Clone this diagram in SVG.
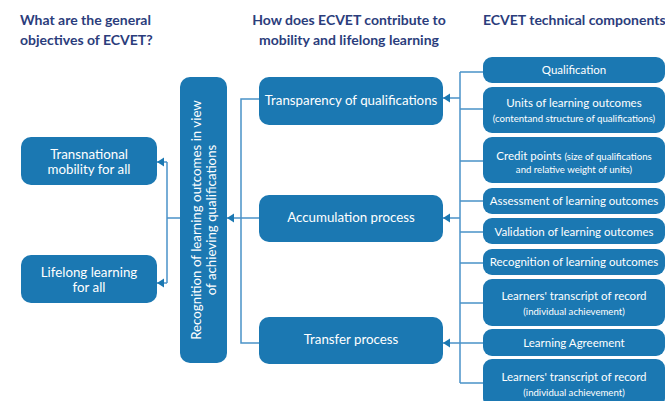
<svg xmlns="http://www.w3.org/2000/svg" width="665" height="401" viewBox="0 0 665 401">
<defs>
<style>
.bg{fill:#ffffff}
.box{fill:#1b78b2}
.t{font-family:Lato,"Open Sans","DejaVu Sans",sans-serif;fill:#ffffff;text-anchor:middle}
.m{font-size:13.3px}
.r{font-size:11.5px}
.s{font-size:9.6px}
.h{font-family:Lato,"Open Sans","DejaVu Sans",sans-serif;font-weight:bold;font-size:14px;fill:#2b3d7c}
.ln{fill:none;stroke:#4a92c8;stroke-width:1.5}
</style>
<marker id="ah" markerUnits="userSpaceOnUse" markerWidth="8" markerHeight="10" refX="7" refY="4.5" orient="auto">
<path d="M0,0 L7,4.5 L0,9 z" fill="#1b78b2"/>
</marker>
</defs>
<rect class="bg" x="0" y="0" width="665" height="401"/>
<g id="headers">
<text class="h" x="20" y="25">What are the general</text>
<text class="h" x="20" y="45">objectives of ECVET?</text>
<text class="h" x="349" y="25" text-anchor="middle">How does ECVET contribute to</text>
<text class="h" x="349" y="45" text-anchor="middle">mobility and lifelong learning</text>
<text class="h" x="483" y="25">ECVET technical components</text>
</g>
<g id="connectors">
<path class="ln" d="M180,218 H167"/>
<path class="ln" d="M167,162 V283"/>
<path class="ln" d="M167,162 H157" marker-end="url(#ah)"/>
<path class="ln" d="M167,283 H157" marker-end="url(#ah)"/>
<path class="ln" d="M259,99 H241 V343 H259"/>
<path class="ln" d="M259,218 H227" marker-end="url(#ah)"/>
<path class="ln" d="M460,72 V383"/>
<path class="ln" d="M460,72 H483 M460,109 H483 M460,161 H483 M460,201 H483 M460,232 H483 M460,263 H483 M460,303 H483 M460,343 H483 M460,383 H483"/>
<path class="ln" d="M460,98 H443" marker-end="url(#ah)"/>
<path class="ln" d="M460,218 H443" marker-end="url(#ah)"/>
<path class="ln" d="M460,343 H443" marker-end="url(#ah)"/>
</g>
<g id="transnational">
<rect class="box" x="21" y="137" width="136" height="48" rx="10"/>
<text class="t m" x="89" y="159">Transnational</text>
<text class="t m" x="89" y="174">mobility for all</text>
</g>
<g id="lifelong">
<rect class="box" x="21" y="255" width="136" height="48" rx="10"/>
<text class="t m" x="89" y="277">Lifelong learning</text>
<text class="t m" x="89" y="292">for all</text>
</g>
<g id="recognition-vertical">
<rect class="box" x="180" y="77" width="47" height="286" rx="10"/>
<text class="t m" transform="translate(201,220) rotate(-90)" x="0" y="0">Recognition of learning outcomes in view</text>
<text class="t m" transform="translate(216,220) rotate(-90)" x="0" y="0">of achieving qualifications</text>
</g>
<g id="transparency">
<rect class="box" x="259" y="77" width="184" height="48" rx="10"/>
<text class="t m" x="351" y="105">Transparency of qualifications</text>
</g>
<g id="accumulation">
<rect class="box" x="259" y="195" width="184" height="47" rx="10"/>
<text class="t m" x="351" y="222">Accumulation process</text>
</g>
<g id="transfer">
<rect class="box" x="259" y="317" width="184" height="47" rx="10"/>
<text class="t m" x="351" y="344">Transfer process</text>
</g>
<g id="qualification">
<rect class="box" x="483" y="57" width="182" height="26" rx="9"/>
<text class="t r" x="574" y="74">Qualification</text>
</g>
<g id="units">
<rect class="box" x="483" y="87" width="182" height="46" rx="9"/>
<text class="t r" x="574" y="107">Units of learning outcomes</text>
<text class="t s" x="574" y="122">(contentand structure of qualifications)</text>
</g>
<g id="credit">
<rect class="box" x="483" y="137" width="182" height="46" rx="9"/>
<text class="t" x="574" y="160"><tspan class="r">Credit points </tspan><tspan class="s">(size of qualifications</tspan></text>
<text class="t s" x="574" y="173">and relative weight of units)</text>
</g>
<g id="assessment">
<rect class="box" x="483" y="188" width="182" height="26" rx="9"/>
<text class="t r" x="574" y="205">Assessment of learning outcomes</text>
</g>
<g id="validation">
<rect class="box" x="483" y="218" width="182" height="26" rx="9"/>
<text class="t r" x="574" y="236">Validation of learning outcomes</text>
</g>
<g id="recognition">
<rect class="box" x="483" y="249" width="182" height="26" rx="9"/>
<text class="t r" x="574" y="266">Recognition of learning outcomes</text>
</g>
<g id="transcript1">
<rect class="box" x="483" y="279" width="182" height="47" rx="9"/>
<text class="t r" x="574" y="300">Learners' transcript of record</text>
<text class="t s" x="574" y="315">(individual achievement)</text>
</g>
<g id="agreement">
<rect class="box" x="483" y="329" width="182" height="27" rx="9"/>
<text class="t r" x="574" y="347">Learning Agreement</text>
</g>
<g id="transcript2">
<rect class="box" x="483" y="359" width="182" height="48" rx="9"/>
<text class="t r" x="574" y="381">Learners' transcript of record</text>
<text class="t s" x="574" y="396">(individual achievement)</text>
</g>
</svg>
